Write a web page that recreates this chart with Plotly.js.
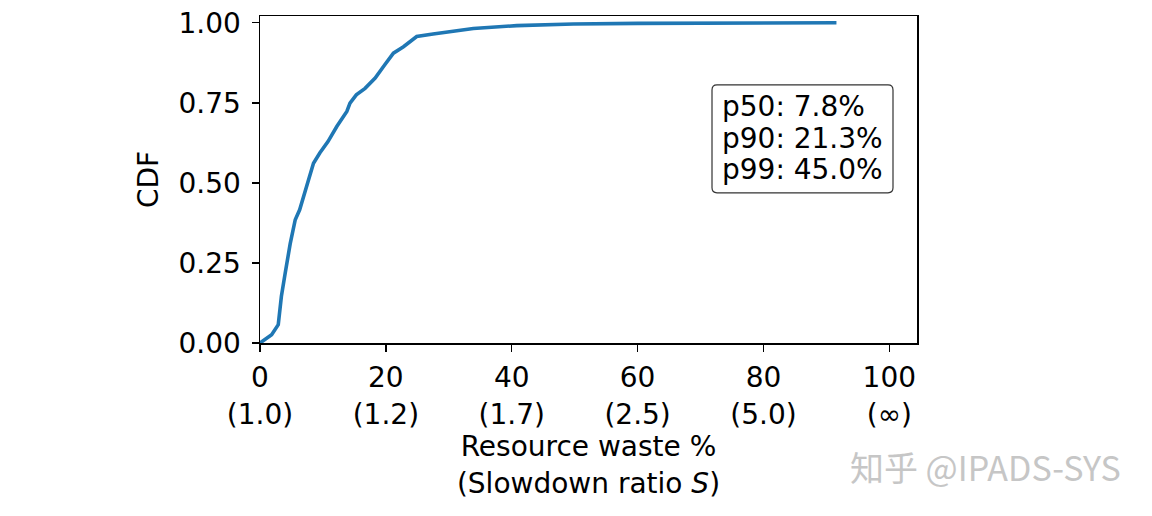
<!DOCTYPE html>
<html>
<head>
<meta charset="utf-8">
<script src="https://cdn.plot.ly/plotly-3.0.1.min.js"></script>
<style>html,body{margin:0;padding:0;background:#fff;}#chart{width:1152px;height:516px;}</style>
</head>
<body>
<div id="chart"></div>
<script>
// Data
const wasteX = [0, 1.85, 2.9, 3.4, 4.0, 4.8, 5.6, 6.3, 7.4, 8.5, 9.5, 10.8, 12.2, 13.8, 14.3, 15.3, 16.7, 18.3, 19.8, 21.2, 22.8, 24.9, 27.5, 30.2, 33.9, 40.8, 49.8, 60, 69.4, 80, 91.6];
const cdfY = [0, 0.026, 0.057, 0.146, 0.218, 0.31, 0.385, 0.416, 0.489, 0.561, 0.593, 0.629, 0.676, 0.723, 0.749, 0.775, 0.795, 0.827, 0.868, 0.905, 0.925, 0.957, 0.965, 0.972, 0.982, 0.991, 0.996, 0.998, 0.999, 1.0, 1.0];
const xTickVals = [0, 20, 40, 60, 80, 100];
const xTickText = ["0<br>(1.0)", "20<br>(1.2)", "40<br>(1.7)", "60<br>(2.5)", "80<br>(5.0)", "100<br>(∞)"];
const yTickVals = [0, 0.25, 0.5, 0.75, 1.0];
const statLines = ["p50: 7.8%", "p90: 21.3%", "p99: 45.0%"];

const FONT = "DejaVu Sans, sans-serif";
const FS = 28;

const trace = {
  x: wasteX, y: cdfY, type: "scatter", mode: "lines",
  line: {color: "#1f77b4", width: 3.6}, hoverinfo: "skip"
};

// rounded box (paper coords)
const L = 260, R = 917, T = 16, B = 343.3;
function px(x){ return (x - L) / (R - L); }
function py(y){ return (B - y) / (B - T); }
const bx0 = 712, bx1 = 893, by0 = 85, by1 = 193, rr = 5;
function pt(x, y){ return px(x).toFixed(5) + "," + py(y).toFixed(5); }
const boxPath = "M" + pt(bx0 + rr, by0) + " L" + pt(bx1 - rr, by0) + " Q" + pt(bx1, by0) + " " + pt(bx1, by0 + rr) +
  " L" + pt(bx1, by1 - rr) + " Q" + pt(bx1, by1) + " " + pt(bx1 - rr, by1) +
  " L" + pt(bx0 + rr, by1) + " Q" + pt(bx0, by1) + " " + pt(bx0, by1 - rr) +
  " L" + pt(bx0, by0 + rr) + " Q" + pt(bx0, by0) + " " + pt(bx0 + rr, by0) + " Z";

const lineYs = [107, 139, 170];
const annotations = statLines.map((t, i) => ({
  xref: "paper", yref: "paper", x: px(720), y: py(lineYs[i]),
  xanchor: "left", yanchor: "middle", text: t, showarrow: false,
  font: {family: FONT, size: FS, color: "#000"}
}));
annotations.push({
  xref: "paper", yref: "paper", x: px(1123), y: py(467), xanchor: "right", yanchor: "middle",
  text: "知乎 @IPADS-SYS", showarrow: false,
  font: {family: "Noto Sans CJK SC, sans-serif", size: 34, color: "#c6c6c6"}
});

const layout = {
  width: 1152, height: 516,
  margin: {l: L, r: 1152 - R, t: T, b: 516 - B, pad: 0},
  paper_bgcolor: "#fff", plot_bgcolor: "#fff",
  showlegend: false,
  font: {family: FONT, size: FS, color: "#000"},
  xaxis: {
    range: [0, 104.4], tickvals: xTickVals, ticktext: xTickText,
    ticks: "outside", ticklen: 7, tickwidth: 1.5, tickcolor: "#000",
    showline: true, linecolor: "#000", linewidth: 1.5, mirror: true,
    showgrid: false, zeroline: false, ticklabelstandoff: 2,
    tickfont: {family: FONT, size: FS, color: "#000"},
    title: {text: "Resource waste %<br>(Slowdown ratio <i>S</i>)", font: {family: FONT, size: FS, color: "#000"}, standoff: 7}
  },
  yaxis: {
    range: [0, 1.021], tickvals: yTickVals, tickformat: ".2f",
    ticks: "outside", ticklen: 7, tickwidth: 1.5, tickcolor: "#000",
    showline: true, linecolor: "#000", linewidth: 1.5, mirror: true,
    showgrid: false, zeroline: false, ticklabelstandoff: 5,
    tickfont: {family: FONT, size: FS, color: "#000"},
    title: {text: "CDF", font: {family: FONT, size: FS, color: "#000"}, standoff: 12}
  },
  shapes: [{type: "path", xref: "paper", yref: "paper", path: boxPath,
    line: {color: "#333", width: 1.2}, fillcolor: "rgba(255,255,255,0.8)", layer: "above"}],
  annotations: annotations
};

Plotly.newPlot("chart", [trace], layout, {staticPlot: true, displayModeBar: false});
</script>
</body>
</html>
